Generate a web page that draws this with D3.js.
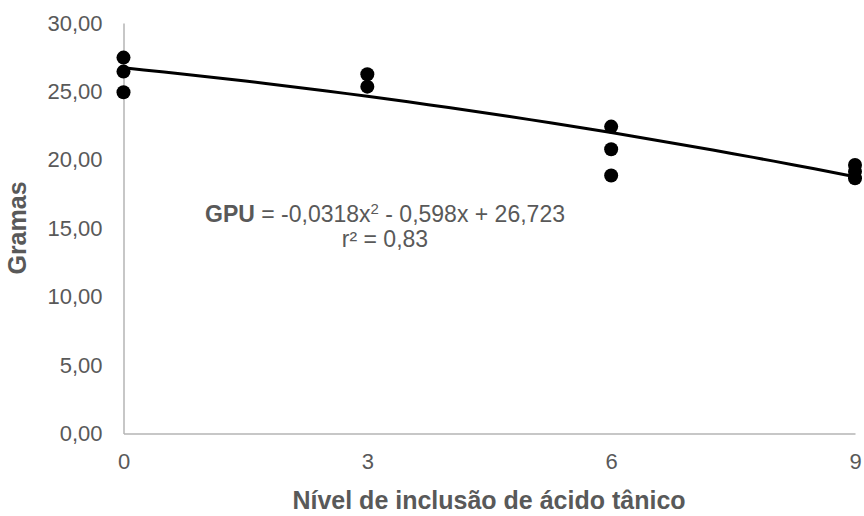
<!DOCTYPE html>
<html>
<head>
<meta charset="utf-8">
<script src="https://cdn.jsdelivr.net/npm/d3@7"></script>
<style>
  body { margin: 0; background: #fff; }
  text { font-family: "Liberation Sans", Arial, sans-serif; fill: #595959; }
</style>
</head>
<body>
<svg id="chart"></svg>
<script>
// data
let levels = [0, 0, 0, 3, 3, 6, 6, 6, 9, 9, 9];
let grams = [27.47, 26.45, 24.94, 26.26, 25.35, 22.43, 20.77, 18.85, 19.63, 19.14, 18.65];
let xTicks = [0, 3, 6, 9];
let yTicks = [0, 5, 10, 15, 20, 25, 30];
// trendline GPU = a*x^2 + b*x + c, as printed on the chart
let trendCoef = [-0.0318, -0.598, 26.723];

function getConfig() {
  let width = 864;
  let height = 516;
  let margin = {left: 123.5, right: 9, top: 23, bottom: 82.5};
  let svg = d3.select("#chart")
    .attr("width", width)
    .attr("height", height);
  return {width, height, margin, svg};
}

function getScales(config) {
  let {width, height, margin} = config;
  let x = d3.scaleLinear()
    .domain([0, 9])
    .range([margin.left, width - margin.right]);
  let y = d3.scaleLinear()
    .domain([0, 30])
    .range([height - margin.bottom, margin.top]);
  return {x, y};
}

function drawAxes(config, scales) {
  let {svg} = config;
  let {x, y} = scales;
  let fmt = d => d3.format(".2f")(d).replace(".", ",");

  let yAxis = svg.append("g")
    .attr("transform", `translate(${x(0)},0)`)
    .call(d3.axisLeft(y).tickValues(yTicks).tickFormat(fmt).tickSize(0).tickPadding(21));
  let xAxis = svg.append("g")
    .attr("transform", `translate(0,${y(0)})`)
    .call(d3.axisBottom(x).tickValues(xTicks).tickSize(0).tickPadding(19.5));

  for (let g of [xAxis, yAxis]) {
    g.select(".domain").attr("stroke", "#b4b4b4").attr("stroke-width", 1.5);
    g.selectAll("text")
      .style("font-family", '"Liberation Sans", Arial, sans-serif')
      .style("font-size", "22px")
      .attr("fill", "#595959");
  }

  svg.append("text")
    .attr("transform", "translate(26,228) rotate(-90)")
    .attr("text-anchor", "middle")
    .style("font-size", "25px")
    .style("font-weight", "bold")
    .text("Gramas");

  svg.append("text")
    .attr("x", 489)
    .attr("y", 509)
    .attr("text-anchor", "middle")
    .style("font-size", "25px")
    .style("font-weight", "bold")
    .text("Nível de inclusão de ácido tânico");
}

function drawTrend(config, scales) {
  let {svg} = config;
  let {x, y} = scales;
  let [a, b, c] = trendCoef;
  let xs = d3.range(0, 9.001, 0.25);
  let line = d3.line()
    .x(d => x(d))
    .y(d => y(a * d * d + b * d + c));
  svg.append("path")
    .datum(xs)
    .attr("d", line)
    .attr("fill", "none")
    .attr("stroke", "#000")
    .attr("stroke-width", 3);

  let label = svg.append("text")
    .attr("x", 205)
    .attr("y", 222)
    .attr("text-anchor", "start")
    .style("font-size", "23px");
  label.append("tspan").style("font-weight", "bold").text("GPU");
  label.append("tspan").text(" = -0,0318x");
  label.append("tspan").attr("dy", -8).style("font-size", "15px").text("2");
  label.append("tspan").attr("dy", 8).text(" - 0,598x + 26,723");

  let box = label.node().getBBox();
  svg.append("text")
    .attr("x", box.x + box.width / 2)
    .attr("y", 247)
    .attr("text-anchor", "middle")
    .style("font-size", "23px")
    .text("r² = 0,83");
}

function drawPoints(config, scales) {
  let {svg} = config;
  let {x, y} = scales;
  svg.append("g").selectAll("circle")
    .data(levels.map((l, i) => ({level: l, value: grams[i]})))
    .enter().append("circle")
    .attr("cx", d => x(d.level))
    .attr("cy", d => y(d.value))
    .attr("r", 7)
    .attr("fill", "#000");
}

function showChart() {
  let config = getConfig();
  let scales = getScales(config);
  drawAxes(config, scales);
  drawTrend(config, scales);
  drawPoints(config, scales);
}

showChart();
</script>
</body>
</html>
